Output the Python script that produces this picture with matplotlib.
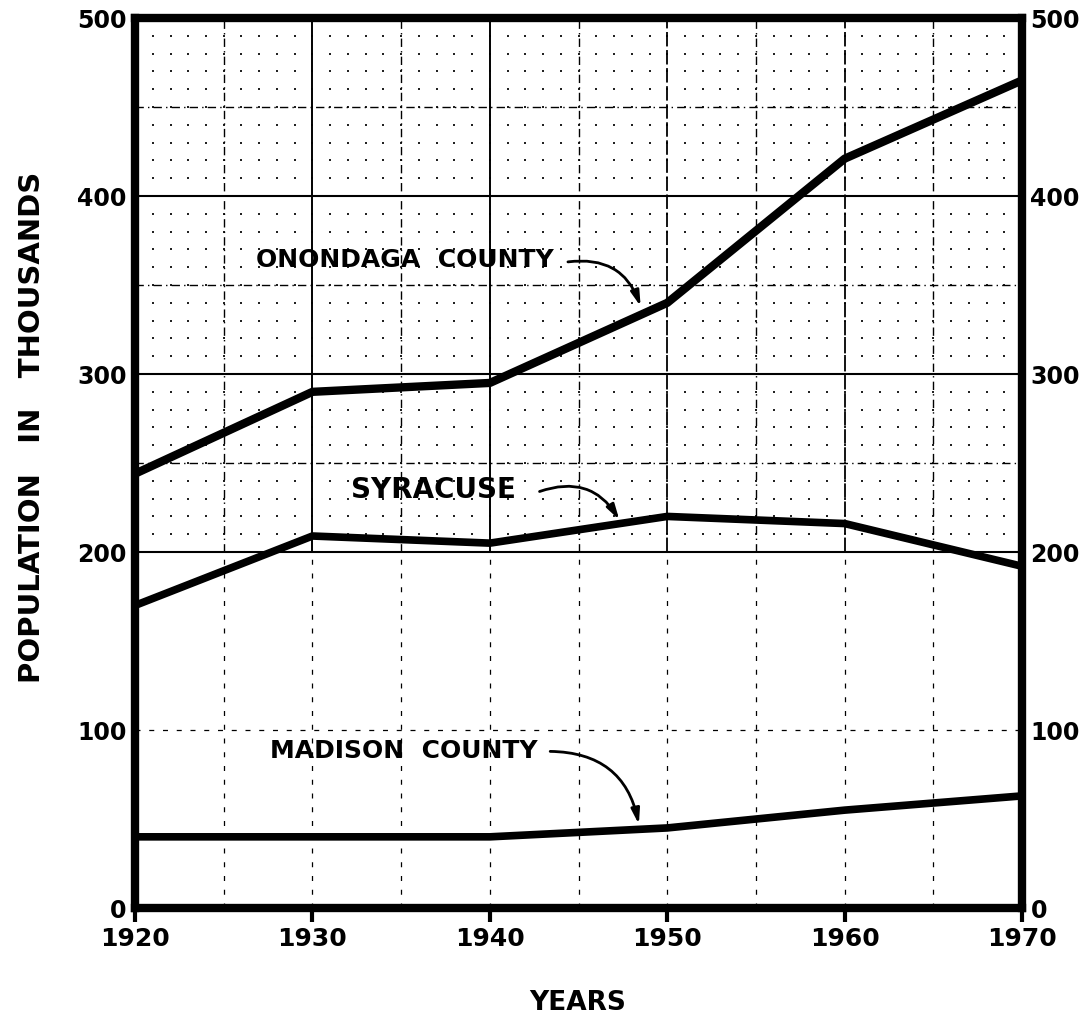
import matplotlib.pyplot as plt
import numpy as np

years = [1920, 1930, 1940, 1950, 1960, 1970]
onondaga = [244, 290, 295, 340, 421, 465]
syracuse = [170, 209, 205, 220, 216, 192]
madison = [40, 40, 40, 45, 55, 63]

x_ticks = [1920, 1930, 1940, 1950, 1960, 1970]
y_ticks = [0, 100, 200, 300, 400, 500]

plt.rcParams['font.family'] = ['DejaVu Sans']
plt.rcParams['font.weight'] = 'bold'

fig = plt.figure(figsize=(10.9, 10.19), dpi=100)
ax = fig.add_axes([0.1239, 0.1089, 0.8138, 0.8734])
ax.set_xlim(1920, 1970)
ax.set_ylim(0, 500)

# old graph paper: dense in the upper part, faint below 200
gx, gy = np.meshgrid(np.arange(1921, 1970), np.arange(210, 500, 10))
ax.scatter(gx.ravel(), gy.ravel(), s=2, c='#222222', marker='s', linewidths=0, zorder=1)
dash_dot = (0, (6, 3, 1, 3))
faint = (0, (4, 7))
ax.vlines(np.arange(1925, 1970, 10), 200, 500, color='black', lw=1.0, ls=dash_dot, zorder=1)
ax.vlines([1930, 1940], 200, 500, color='black', lw=1.4, zorder=1)
ax.vlines([1950, 1960], 200, 500, color='black', lw=1.3, ls=(0, (8, 2)), zorder=1)
ax.vlines(np.arange(1925, 1970, 5), 0, 200, color='black', lw=0.9, ls=faint, zorder=1)
ax.hlines([250, 350, 450], 1920, 1970, color='black', lw=1.0, ls=dash_dot, zorder=1)
ax.hlines([200, 300, 400], 1920, 1970, color='black', lw=1.5, zorder=1)
ax.hlines([100], 1920, 1970, color='black', lw=0.9, ls=faint, zorder=1)

ax.plot(years, onondaga, color='black', lw=6, solid_joinstyle='round', zorder=3)
ax.plot(years, syracuse, color='black', lw=5.5, solid_joinstyle='round', zorder=3)
ax.plot(years, madison, color='black', lw=5.5, solid_joinstyle='round', zorder=3)

def label(text, x0, y0, start, end, size=18):
  ax.text(x0, y0, text, fontsize=size, fontweight='bold',
          va='center', ha='left', zorder=4)
  ax.annotate('', xy=end, xytext=start, zorder=4,
              arrowprops=dict(arrowstyle='-|>,head_length=0.9,head_width=0.25',
                              color='black', lw=2, shrinkA=0, shrinkB=0,
                              connectionstyle='arc3,rad=-0.4'))

label('ONONDAGA  COUNTY', 1926.8, 364, (1944.4, 363), (1948.5, 338))
label('SYRACUSE', 1932.2, 235, (1942.8, 234), (1947.3, 218), size=20)
label('MADISON  COUNTY', 1927.6, 88, (1943.4, 88), (1948.4, 47))

ax.set_xticks(x_ticks)
ax.set_yticks(y_ticks)
ax.tick_params(axis='x', direction='out', length=10, width=3, labelsize=18, pad=4)
ax.tick_params(axis='y', length=0, labelsize=17, pad=6, labelright=True, right=False)
for lbl in ax.get_xticklabels() + ax.get_yticklabels():
  lbl.set_fontweight('bold')
for sp in ax.spines.values():
  sp.set_linewidth(6)
  sp.set_zorder(5)

ax.set_ylabel('POPULATION   IN   THOUSANDS', fontsize=21, fontweight='bold')
ax.yaxis.set_label_coords(-0.100, 0.54)
ax.text(0.499, -0.107, 'YEARS', transform=ax.transAxes, fontsize=19,
        fontweight='bold', ha='center', va='center')

fig.savefig('out.png', dpi=100, facecolor='white')
